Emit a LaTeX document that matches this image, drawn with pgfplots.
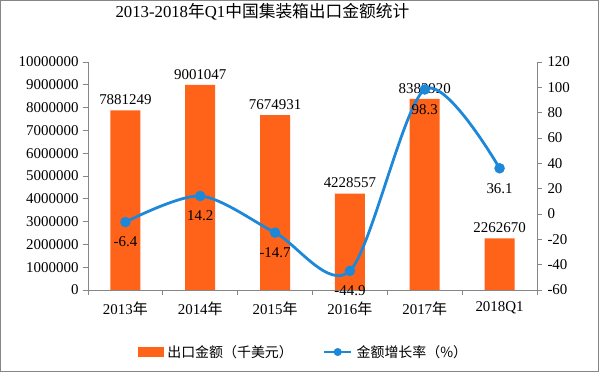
\documentclass[border=0pt]{standalone}
\usepackage{fontspec}
\setmainfont{Liberation Serif}
\newfontfamily\cjk{Noto Sans CJK SC}
\usepackage{pgfplots}
\usepackage{pgfplotstable}
\pgfplotsset{compat=1.18}
\definecolor{barorange}{RGB}{255,99,25}
\definecolor{lineblue}{RGB}{30,136,216}
\definecolor{axgray}{RGB}{134,134,134}

\pgfplotstableread{
x y lab
0 7881249 7881249
1 9001047 9001047
2 7674931 7674931
3 4228557 4228557
4 8383920 8383920
5 2262670 2262670
}\bars

\pgfplotstableread{
x y lab
0 -6.4 -6.4
1 14.2 14.2
2 -14.7 -14.7
3 -44.9 -44.9
4 98.3 98.3
5 36.1 36.1
}\rate

\newcommand\tf{\fontsize{15}{17}\selectfont}

\begin{document}
\begin{tikzpicture}
\begin{axis}[
  scale only axis, width=449bp, height=228bp,
  xmin=-0.5, xmax=5.5, ymin=0, ymax=10000000,
  ybar, bar width=30bp,
  axis x line*=bottom, axis y line*=left,
  axis line style={axgray, line width=0.8bp},
  tick align=outside, major tick length=5bp, minor tick length=5bp,
  every tick/.style={axgray, line width=0.8bp},
  xtick={0,...,5},
  xticklabels={2013{\cjk 年},2014{\cjk 年},2015{\cjk 年},2016{\cjk 年},2017{\cjk 年},2018Q1},
  xticklabel style={yshift=-3bp},
  major x tick style={draw=none},
  minor xtick={-0.5,0.5,...,5.5},
  ytick={0,1000000,...,10000000},
  scaled y ticks=false,
  yticklabel style={/pgf/number format/fixed, /pgf/number format/1000 sep={}, xshift=-1bp},
  /pgf/number format/assume math mode=true,
  ticklabel style={font=\tf, text=black},
  title={2013-2018{\cjk 年}Q1{\cjk 中国集装箱出口金额统计}},
  title style={at={(0.5,1)}, anchor=center, yshift=44bp, xshift=-50bp, font=\fontsize{16.8}{20}\selectfont},
]
\addplot[fill=barorange, draw=none, nodes near coords, point meta=explicit symbolic,
  nodes near coords style={font=\tf, text=black, yshift=2bp}]
  table[x=x, y=y, meta=lab]{\bars};
\end{axis}
\begin{axis}[
  scale only axis, width=449bp, height=228bp,
  xmin=-0.5, xmax=5.5, ymin=-60, ymax=120,
  axis y line*=right, axis x line=none,
  axis line style={axgray, line width=0.8bp},
  tick align=outside, major tick length=5bp,
  every tick/.style={axgray, line width=0.8bp},
  ytick={-60,-40,...,120},
  yticklabel style={xshift=2bp},
  /pgf/number format/assume math mode=true,
  ticklabel style={font=\tf, text=black},
  legend columns=2,
  legend style={at={(0.48,-0.272)}, anchor=center, draw=none, fill=none,
    font=\fontsize{14}{16}\selectfont, /tikz/every even column/.append style={column sep=28bp},
    inner sep=0pt, /tikz/every odd column/.append style={column sep=2bp}},
]
\addlegendimage{legend image code/.code={\fill[barorange] (0bp,-4.5bp) rectangle (25bp,4.5bp);}}
\addlegendentry{{\cjk 出口金额（千美元）}}
\addlegendimage{legend image code/.code={\draw[lineblue, line width=2.8bp] (0bp,0bp) -- (27bp,0bp); \fill[lineblue] (13.5bp,0bp) circle (3.8bp);}}
\addlegendentry{{\cjk 金额增长率（\%）}}
\addplot[forget plot, lineblue, line width=2.8bp, smooth, mark=*, mark size=3.8bp,
  mark options={fill=lineblue, draw=lineblue},
  nodes near coords, point meta=explicit symbolic,
  nodes near coords style={font=\tf, text=black, anchor=center, yshift=-20bp}]
  table[x=x, y=y, meta=lab]{\rate};
\end{axis}
\draw[axgray, line width=1bp] (-87.5bp,-81.5bp) rectangle (510.5bp,289.5bp);
\end{tikzpicture}
\end{document}
